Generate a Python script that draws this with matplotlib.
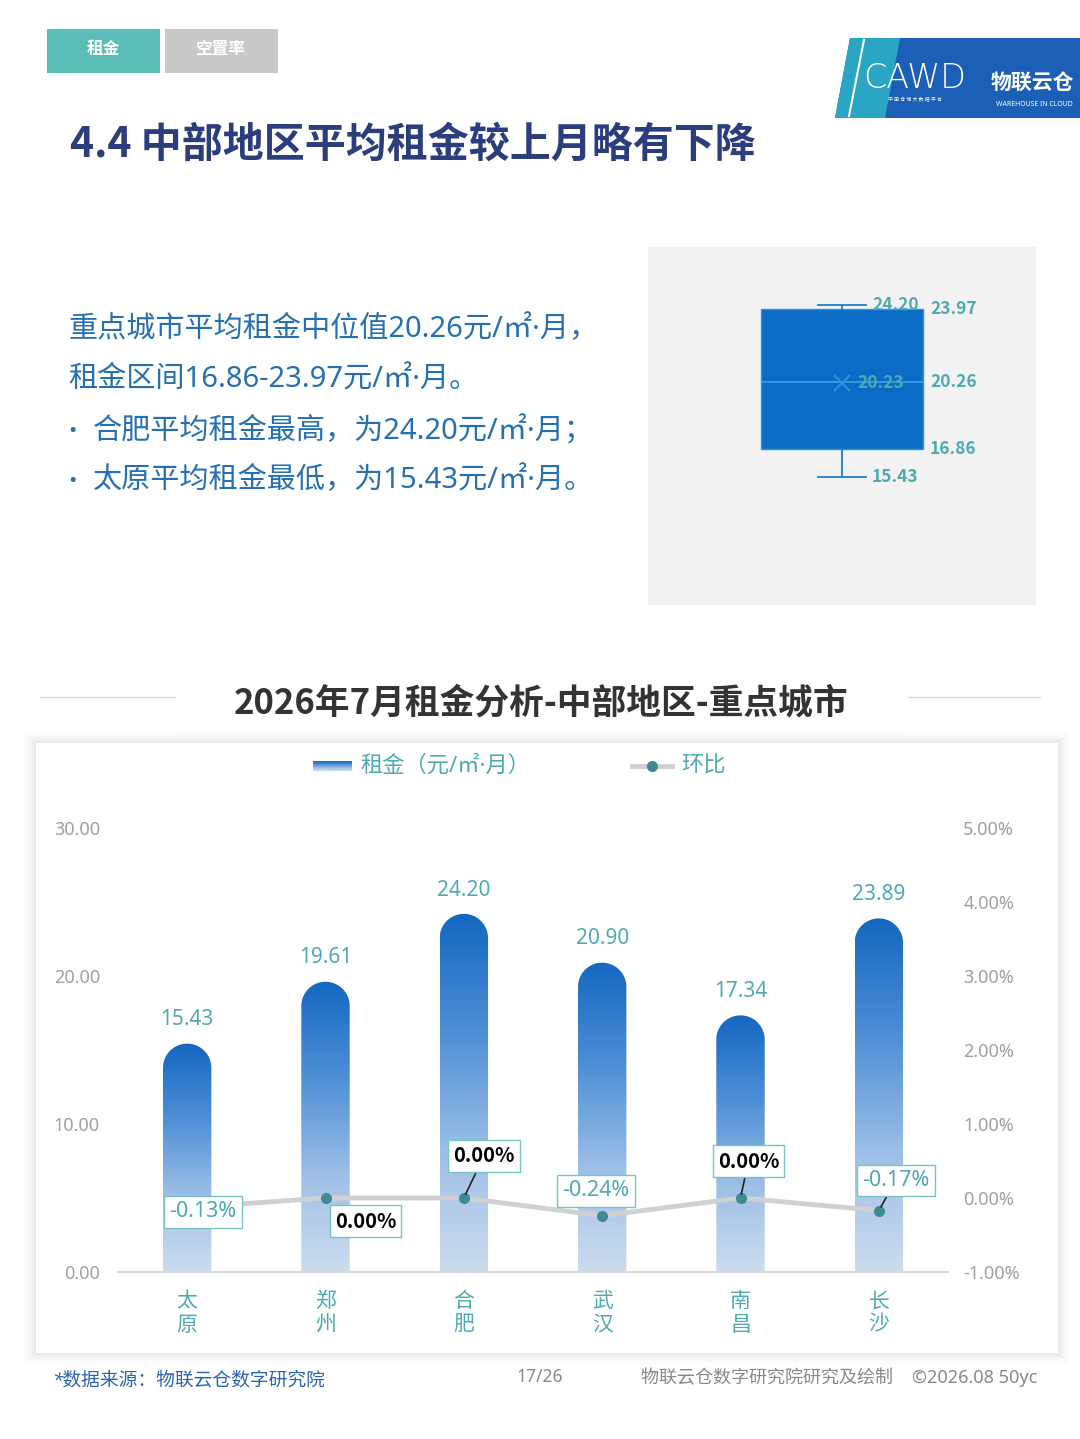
import numpy as np
import matplotlib
matplotlib.use("Agg")
import matplotlib.pyplot as plt
from matplotlib.patches import Rectangle, Polygon, PathPatch
from matplotlib.path import Path
from matplotlib.lines import Line2D
from matplotlib.colors import LinearSegmentedColormap

plt.rcParams['font.family'] = ['Noto Sans', 'Noto Sans CJK SC', 'DejaVu Sans']
BOLDF = ['Noto Sans CJK SC', 'DejaVu Sans']

# ---- data ----
cities = ['太原', '郑州', '合肥', '武汉', '南昌', '长沙']
rent = [15.43, 19.61, 24.20, 20.90, 17.34, 23.89]
mom = [-0.13, 0.00, 0.00, -0.24, 0.00, -0.17]

box_lo = 15.43
box_q1 = 16.86
box_med = 20.26
box_q3 = 23.97
box_hi = 24.20
box_mean = 20.23

W, H = 1080, 1439
fig = plt.figure(figsize=(W / 100, H / 100), dpi=100)
fig.patch.set_facecolor('white')


def fx(x):
    return x / W


def fy(y):
    return 1 - y / H


def frect(x, y, w, h):
    return [x / W, 1 - (y + h) / H, w / W, h / H]


def fpatch(p, z=-5):
    p.set_zorder(z)
    fig.patches.append(p)


TEAL = '#4fa9b0'

# ---- tabs ----
fpatch(Rectangle((fx(47), fy(73)), 113 / W, 44 / H, transform=fig.transFigure,
                 facecolor='#5bbdb8', edgecolor='none'))
fpatch(Rectangle((fx(165), fy(73)), 113 / W, 44 / H, transform=fig.transFigure,
                 facecolor='#c9c9c9', edgecolor='none'))
fig.text(fx(103), fy(50), '租金', color='white', fontsize=12, weight='bold', ha='center', va='center')
fig.text(fx(221), fy(50), '空置率', color='white', fontsize=12, weight='bold', ha='center', va='center')

# ---- logo ----
logo = [(fx(850), fy(38)), (fx(1080), fy(38)), (fx(1080), fy(118)), (fx(835), fy(118))]
fpatch(Polygon(logo, closed=True, transform=fig.transFigure, facecolor='#1b5fb6', edgecolor='none'))
stripe = [(fx(850), fy(38)), (fx(900), fy(38)), (fx(885), fy(118)), (fx(835), fy(118))]
fpatch(Polygon(stripe, closed=True, transform=fig.transFigure, facecolor='#2aa6c4', edgecolor='none'), -4)
fig.lines.append(Line2D([fx(864), fx(849)], [fy(40), fy(116)], transform=fig.transFigure, color='white', lw=1.5))
fig.text(fx(915), fy(78), 'CAWD', color='white', fontsize=24, family='DejaVu Sans', weight='light',
         ha='center', va='center')
fig.text(fx(915), fy(100), '中 国 仓 储 大 数 据 平 台', color='white', fontsize=3.5, ha='center', va='center')
fig.text(fx(1032), fy(84), '物联云仓', color='white', fontsize=15, weight='bold', ha='center', va='center')
fig.text(fx(1034), fy(104), 'WAREHOUSE IN CLOUD', color='white', fontsize=5, ha='center', va='center')

# ---- title ----
fig.text(fx(70), fy(145), '4.4 中部地区平均租金较上月略有下降', color='#2b3d7c', fontsize=29.5,
         weight='bold', family=BOLDF, ha='left', va='center')

# ---- text block ----
tc = '#2470b3'
fs = 21
fig.text(fx(68), fy(330), '重点城市平均租金中位值20.26元/㎡·月，', color=tc, fontsize=fs, ha='left', va='center')
fig.text(fx(68), fy(380), '租金区间16.86-23.97元/㎡·月。', color=tc, fontsize=fs, ha='left', va='center')
fig.text(fx(68), fy(431), '•', color=tc, fontsize=16, ha='left', va='center')
fig.text(fx(93), fy(431), '合肥平均租金最高，为24.20元/㎡·月；', color=tc, fontsize=fs, ha='left', va='center')
fig.text(fx(68), fy(481), '•', color=tc, fontsize=16, ha='left', va='center')
fig.text(fx(93), fy(481), '太原平均租金最低，为15.43元/㎡·月。', color=tc, fontsize=fs, ha='left', va='center')

# ---- box plot panel ----
axb = fig.add_axes(frect(648, 247, 388, 358))
axb.set_facecolor('#f2f2f2')
stats = [dict(whislo=box_lo, q1=box_q1, med=box_med, q3=box_q3, whishi=box_hi, mean=box_mean, fliers=[])]
axb.bxp(stats, positions=[1], widths=0.83, patch_artist=True, showmeans=True, capwidths=0.25,
        boxprops=dict(facecolor='#0a6cc4', edgecolor='#2d93de', lw=1),
        medianprops=dict(color='#3aa3ea', lw=1.2),
        whiskerprops=dict(color='#1f7fcc', lw=1.3),
        capprops=dict(color='#1f7fcc', lw=1.3),
        meanprops=dict(marker='x', markeredgecolor='#2f95e0', markersize=11, markeredgewidth=1.3))
for s in axb.spines.values():
    s.set_visible(False)
axb.set_xticks([])
axb.set_yticks([])
axb.set_xlim(0, 2)
axb.set_ylim(8.94, 27.12)
bl = dict(color=TEAL, fontsize=12.5, weight='bold', family=BOLDF, va='center', ha='left')
axb.text(1.155, box_hi, '%.2f' % box_hi, **bl)
axb.text(1.454, box_q3, '%.2f' % box_q3, **bl)
axb.text(1.08, box_mean, '%.2f' % box_mean, **bl)
axb.text(1.454, box_med, '%.2f' % box_med, **bl)
axb.text(1.454, box_q1, '%.2f' % box_q1, **bl)
axb.text(1.155, box_lo, '%.2f' % box_lo, **bl)

# ---- card shadow + card ----
for k, a in zip(range(12, 0, -2), [0.01, 0.015, 0.02, 0.03, 0.04, 0.05]):
    fpatch(Rectangle((fx(36 - k), fy(1353 + k)), (1022 + 2 * k) / W, (610 + 2 * k) / H,
                     transform=fig.transFigure, facecolor='#888888', alpha=a, edgecolor='none'), -10)
fpatch(Rectangle((fx(36), fy(1353)), 1022 / W, 610 / H, transform=fig.transFigure,
                 facecolor='white', edgecolor='none'), -9)
fpatch(Rectangle((fx(175), fy(732)), 733 / W, 60 / H, transform=fig.transFigure,
                 facecolor='white', edgecolor='none'), -8)

# ---- section title ----
fig.lines.append(Line2D([fx(40), fx(175)], [fy(697), fy(697)], transform=fig.transFigure, color='#d9d9d9', lw=1))
fig.lines.append(Line2D([fx(908), fx(1040)], [fy(697), fy(697)], transform=fig.transFigure, color='#d9d9d9', lw=1))
fig.text(fx(541), fy(703), '2026年7月租金分析-中部地区-重点城市', color='#333333', fontsize=25,
         weight='bold', family=BOLDF, ha='center', va='center')

# ---- gradient colormap ----
cmap = LinearSegmentedColormap.from_list('bar', ['#1467c0', '#4f8fd6', '#9dbfe6', '#cddcef'])
grad = np.linspace(0, 1, 256).reshape(-1, 1)

# ---- legend ----
axl = fig.add_axes(frect(313, 761, 39, 10))
axl.imshow(grad, cmap=cmap, aspect='auto')
axl.axis('off')
fig.text(fx(360), fy(766), '租金（元/㎡·月）', color=TEAL, fontsize=16, ha='left', va='center')
fig.lines.append(Line2D([fx(632), fx(672)], [fy(766), fy(766)], transform=fig.transFigure,
                        color='#cfcfcf', lw=3.5))
fig.lines.append(Line2D([fx(652)], [fy(766)], transform=fig.transFigure, marker='o', markersize=7,
                        color='#3d8a94', lw=0))
fig.text(fx(681), fy(766), '环比', color=TEAL, fontsize=16, ha='left', va='center')

# ---- main chart ----
ax = fig.add_axes(frect(118, 828, 830, 444))
ax.set_facecolor('none')
for s in ['top', 'right', 'left']:
    ax.spines[s].set_visible(False)
ax.spines['bottom'].set_color('#d9d9d9')
ax.spines['bottom'].set_linewidth(1.5)
ax.set_yticks([0, 10, 20, 30])
ax.set_yticklabels(['%.2f' % v for v in [0, 10, 20, 30]])
ax.tick_params(axis='y', length=0, pad=13, labelcolor='#a0a0a0', labelsize=13)
ax.set_xticks(range(len(cities)))
ax.set_xticklabels(['\n'.join(c) for c in cities], linespacing=1.15)
ax.tick_params(axis='x', length=0, pad=14, labelcolor=TEAL, labelsize=15)

bw = 0.35
# vertical radius of rounded top, in data units
ax_w_px, ax_h_px = 830, 444
ry = (bw / 2) * (ax_w_px / 6.0) / (ax_h_px / 30.0)
for i, v in enumerate(rent):
    x0, x1 = i - bw / 2, i + bw / 2
    th = np.linspace(np.pi, 0, 40)
    arc = np.column_stack([i + bw / 2 * np.cos(th), v - ry + ry * np.sin(th)])
    verts = np.vstack([[x0, 0], [x0, v - ry], arc, [x1, 0], [x0, 0]])
    codes = [Path.MOVETO] + [Path.LINETO] * (len(verts) - 2) + [Path.CLOSEPOLY]
    clip = PathPatch(Path(verts, codes), facecolor='none', edgecolor='none', transform=ax.transData)
    ax.add_patch(clip)
    im = ax.imshow(grad, cmap=cmap, aspect='auto', extent=[x0, x1, 0, v], origin='upper', zorder=2)
    im.set_clip_path(clip)
    ax.text(i, v + 0.9, '%.2f' % v, color=TEAL, fontsize=15, ha='center', va='bottom')
ax.set_xlim(-0.5, 5.5)
ax.set_ylim(0, 30)

ax2 = ax.twinx()
ax2.set_ylim(-1, 5)
for s in ax2.spines.values():
    s.set_visible(False)
ax2.set_yticks([-1, 0, 1, 2, 3, 4, 5])
ax2.set_yticklabels(['%.2f%%' % v for v in [-1, 0, 1, 2, 3, 4, 5]])
ax2.tick_params(axis='y', length=0, pad=11, labelcolor='#a0a0a0', labelsize=13)
ax2.plot(range(len(cities)), mom, color='#d0d0d0', lw=3.5, zorder=3,
         marker='o', markersize=7, markerfacecolor='#3d8a94', markeredgecolor='#3d8a94')

offsets = [(16, -4), (40, -23), (20, 42), (-6, 25), (8, 37), (17, 30)]
leader = [False, False, True, False, True, True]
for i, m in enumerate(mom):
    kw = {}
    if leader[i]:
        kw['arrowprops'] = dict(arrowstyle='-', color='#222222', lw=1.2, shrinkA=0, shrinkB=3)
    if m == 0:
        kw.update(color='black', weight='bold', family=BOLDF, fontsize=14.5)
    else:
        kw.update(color=TEAL, fontsize=15.5)
    ax2.annotate('%.2f%%' % m, xy=(i, m), xytext=offsets[i], textcoords='offset pixels',
                 ha='center', va='center', zorder=5,
                 bbox=dict(boxstyle='square,pad=0.25', facecolor='white', edgecolor='#79c2c2', lw=1),
                 **kw)

# ---- footer ----
fig.text(fx(52), fy(1380), '*数据来源：物联云仓数字研究院', color='#2a63b5', fontsize=13.5, style='italic',
         ha='left', va='center')
fig.text(fx(540), fy(1377), '17/26', color='#888888', fontsize=12.5, ha='center', va='center')
fig.text(fx(1037), fy(1377), '物联云仓数字研究院研究及绘制    ©2026.08 50yc', color='#888888', fontsize=13,
         ha='right', va='center')

fig.savefig('out.png', dpi=100)
